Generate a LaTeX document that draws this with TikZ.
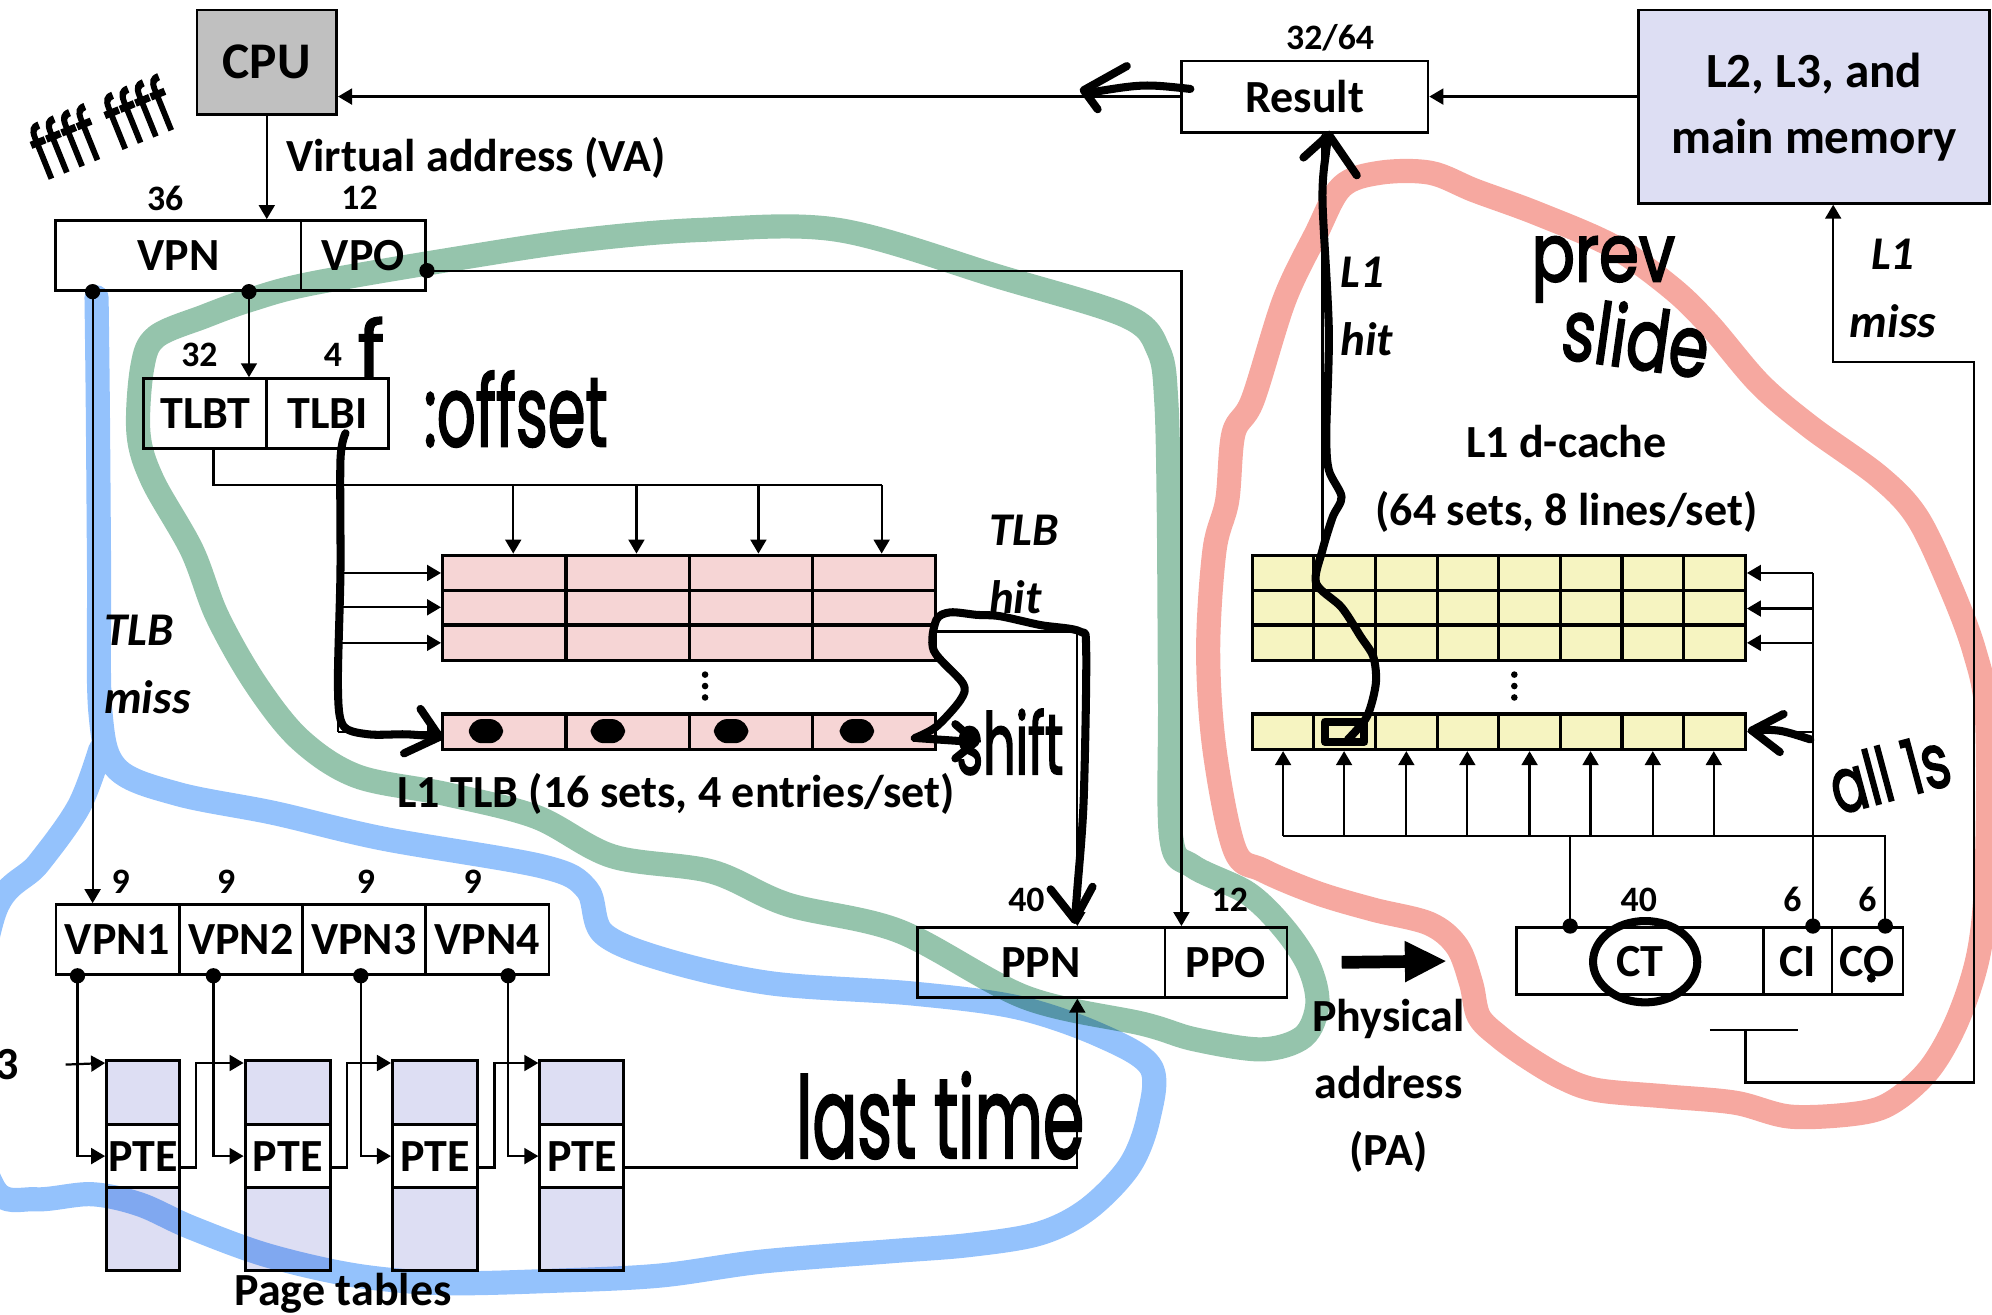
\documentclass[tikz,border=0pt]{standalone}
\usepackage{fontspec}
\setmainfont{Carlito}
\newfontfamily\handfont{Poppins}[FakeBold=2.5]
\usetikzlibrary{positioning,arrows.meta}

\definecolor{cpugray}{RGB}{192,192,192}
\definecolor{memblue}{RGB}{221,222,243}
\definecolor{tlbpink}{RGB}{246,213,213}
\definecolor{cacheyel}{RGB}{246,244,193}
\definecolor{penred}{RGB}{246,168,160}
\definecolor{pengreen}{RGB}{149,196,172}
\definecolor{penblue}{RGB}{148,194,252}

\begin{document}
\begin{tikzpicture}[x=0.01cm, y=-0.01cm,
    font=\fontsize{10.3}{13}\selectfont\bfseries,
    box/.style={draw, line width=0.6pt, inner sep=0pt, minimum height=0.55cm},
    cell/.style={draw, line width=0.7pt, inner sep=0pt, minimum width=3.88cm},
    num/.style={font=\fontsize{8}{9}\selectfont\bfseries, inner sep=0pt},
    note/.style={font=\fontsize{10.5}{15.2}\selectfont\bfseries\itshape, align=left, inner sep=0pt},
    ln/.style={line width=0.5pt},
    arr/.style={ln, -{Triangle[length=1.1mm,width=1.25mm]}},
    pen/.style={line width=1.8pt, line cap=round, line join=round},
    ink/.style={font=\handfont, inner sep=0pt},
    hl/.style={line width=0.19cm, line cap=round, line join=round}
  ]
  \useasboundingbox (0,0) rectangle (1568,1035);

  % CPU, result and memory along the top.
  \node[box, fill=cpugray, minimum width=1.10cm, minimum height=0.82cm,
        font=\fontsize{11.5}{13}\selectfont\bfseries] (cpu) at (210,49) {CPU};
  \node[box, minimum width=1.94cm, minimum height=0.56cm] (result) at (1027,76) {Result};
  \node[box, fill=memblue, minimum width=2.76cm, minimum height=1.52cm, align=center,
        font=\fontsize{11}{14.8}\selectfont\bfseries] (mem) at (1428,84) {L2, L3, and\\main memory};
  \node[num] (w64) at (1047,30) {32/64};

  % Virtual address.
  \node[anchor=west] (vacap) at (213,124) {Virtual address (VA)};
  \node[box, minimum width=1.93cm] (vpn) at (140.5,201) {VPN};
  \node[box, minimum width=0.98cm] (vpo) at (286,201) {VPO};
  \node[num] (w36) at (130,156) {36};
  \node[num] (w12) at (283,156) {12};

  % TLB tag / index.
  \node[box, minimum width=0.97cm] (tlbt) at (161.5,325.5) {TLBT};
  \node[box, minimum width=0.96cm] (tlbi) at (258,325.5) {TLBI};
  \node[num] (w32) at (157,279) {32};
  \node[num] (w4) at (262,279) {4};

  % L1 TLB array.
  \node[cell, fill=tlbpink, minimum height=0.83cm] (tlb) at (542.5,478.5) {};
  \node[cell, fill=tlbpink, minimum height=0.28cm] (tlbrow) at (542.5,576) {};
  \foreach \x in {445.5,542.5,639.5} {
    \draw[line width=0.7pt] (\x,437) -- (\x,520);
    \draw[line width=0.7pt] (\x,562) -- (\x,590);
  }
  \foreach \y in {464.5,492} \draw[line width=0.7pt] (348.5,\y) -- (736.5,\y);
  \foreach \y in {531,540,549} \fill (555,\y) circle (0.026cm);
  \node (tlbcap) at (532,625) {L1 TLB (16 sets, 4 entries/set)};

  % L1 d-cache array.
  \node[align=center, font=\fontsize{10.3}{15.3}\selectfont\bfseries] (dcap) at (1233,377)
    {L1 d-cache\\(64 sets, 8 lines/set)};
  \node[cell, fill=cacheyel, minimum height=0.83cm] (cache) at (1179.75,478.5) {};
  \node[cell, fill=cacheyel, minimum height=0.28cm] (cacherow) at (1179.75,576) {};
  \foreach \k in {1,...,7} {
    \draw[line width=0.7pt] ({985.75+48.5*\k},437) -- ({985.75+48.5*\k},520);
    \draw[line width=0.7pt] ({985.75+48.5*\k},562) -- ({985.75+48.5*\k},590);
  }
  \foreach \y in {464.5,492} \draw[line width=0.7pt] (985.75,\y) -- (1373.75,\y);
  \foreach \y in {531,540,549} \fill (1192,\y) circle (0.026cm);

  % VPN1..VPN4 and the page tables.
  \foreach \i/\x in {1/92.5,2/189.5,3/286.5,4/383.5}
    \node[box, minimum width=0.97cm] (vpn\i) at (\x,739.5) {VPN\i};
  \foreach \i/\x in {1/95,2/178,3/288,4/372}
    \node[num] (w9\i) at (\x,694) {9};
  \foreach \i/\x/\w in {1/112.5/0.57,2/226.5/0.67,3/342.5/0.67,4/458/0.66} {
    \node[draw, line width=0.7pt, fill=memblue, inner sep=0pt, minimum width=\w cm,
          minimum height=1.65cm] (pt\i) at (\x,917.5) {};
    \node[draw, line width=0.7pt, fill=white, inner sep=0pt, minimum width=\w cm,
          minimum height=0.5cm] (pte\i) at (\x,910) {PTE};
  }
  \node (ptcap) at (270,1018) {Page tables};
  \node (cr3) at (6,838) {3};

  % Physical address.
  \node[box, minimum width=1.95cm] (ppn) at (819.5,757.5) {PPN};
  \node[box, minimum width=0.96cm] (ppo) at (965,757.5) {PPO};
  \node[num] (w40) at (808,708) {40};
  \node[num] (w12b) at (968,708) {12};
  \node[align=center, font=\fontsize{10.3}{15}\selectfont\bfseries] (pacap) at (1093,855)
    {Physical\\address\\(PA)};
  \node[box, minimum width=1.94cm, minimum height=0.53cm] (ct) at (1291,756.5) {CT};
  \node[box, minimum width=0.54cm, minimum height=0.53cm] (ci) at (1415,756.5) {CI};
  \node[box, minimum width=0.56cm, minimum height=0.53cm] (co) at (1470,756.5) {CO};
  \node[num] (w40b) at (1290,708) {40};
  \node[num] (w6a) at (1411,708) {6};
  \node[num] (w6b) at (1470,708) {6};

  % Italic path labels.
  \node[note] (tlbhit) at (806,444) {TLB\\hit};
  \node[note] (tlbmiss) at (116,523) {TLB\\miss};
  \node[note] (l1hit) at (1076,241) {L1\\hit};
  \node[note, align=center] (l1miss) at (1490,227) {L1\\miss};

  % Connectors.
  \draw[arr] (result.west) -- (result.west -| cpu.east);
  \draw[arr] (mem.west |- result.east) -- (result.east);
  \draw[arr] (cpu.south) -- (cpu.south |- vpn.north);

  \coordinate (vd1) at ([xshift=0.30cm]vpn.south west);
  \coordinate (vd2) at ([xshift=1.53cm]vpn.south west);
  \coordinate (vd3) at ([yshift=-0.12cm]vpo.east);
  \foreach \c in {vd1,vd2,vd3} \fill (\c) circle (0.06cm);
  \draw[arr] (vd1) -- (vd1 |- vpn1.north);
  \draw[arr] (vd2) -- (vd2 |- tlbt.north);
  \draw[arr] (vd3) -| ([xshift=-0.35cm]ppo.north);

  % TLBT feeds the tag compares, TLBI picks the set.
  \coordinate (tb) at ([xshift=0.065cm]tlbt.south);
  \draw[ln] (tb) |- (694,382);
  \foreach \x in {404,501,597,694} \draw[arr] (\x,382) -- (\x,0 |- tlb.north);
  \coordinate (ti) at ([xshift=0.08cm]tlbi.south);
  \draw[ln] (ti) -- (ti |- tlbrow.west);
  \foreach \y in {451,478,506} \draw[arr] (ti |- 0,\y) -- (tlb.west |- 0,\y);
  \draw[arr] (ti |- tlbrow.west) -- (tlbrow.west);
  \draw[arr] ([yshift=-0.185cm]tlb.east) -| ([xshift=0.285cm]ppn.north);

  % Page walk.
  \foreach \i/\x in {1/61,2/168,3/284,4/400} {
    \coordinate (pd\i) at (\x,0 |- vpn1.south);
    \fill (pd\i) circle (0.06cm);
    \draw[arr] (pd\i) |- (pte\i.west);
  }
  \foreach \i/\j in {1/2,2/3,3/4}
    \draw[arr] ([yshift=-0.09cm]pte\i.east) -- ++(12,0) |- ([yshift=-0.03cm]pt\j.north west);
  \draw[arr] ([xshift=0.24cm]cr3.east) -- ([yshift=-0.03cm]pt1.north west);
  \draw[arr] ([yshift=-0.09cm]pte4.east) -| ([xshift=0.285cm]ppn.south);

  \draw[line width=0.1cm, -{Triangle[length=0.33cm,width=0.3cm]}]
    ([xshift=0.42cm]ppo.east) -- ([xshift=-0.54cm]ct.west);

  % Cache lookup.
  \coordinate (cd1) at ([xshift=-0.55cm]ct.north);
  \coordinate (cd2) at ([xshift=0.12cm]ci.north);
  \coordinate (cd3) at ([xshift=0.14cm]co.north);
  \foreach \c in {cd1,cd2,cd3} \fill (\c) circle (0.06cm);
  \draw[ln] (cd1) -- (cd1 |- 0,658);
  \draw[ln] (1010,658) -- (cd3 |- 0,658) -- (cd3);
  \foreach \x in {1010,1058,1107,1155,1204,1252,1301,1349}
    \draw[arr] (\x,658) -- (\x,0 |- cacherow.south);
  \draw[ln] (cd2) -- (cd2 |- 0,451);
  \foreach \y in {451,479,506} \draw[arr] (cd2 |- 0,\y) -- (cache.east |- 0,\y);
  \draw[arr] (cd2 |- cacherow.east) -- (cacherow.east);
  \draw[arr] (1041,0 |- cache.north) -- (1041,0 |- result.south);
  \draw[ln] (1346,811) -- (1415,811);
  \draw[arr] (1374,811) |- (1554,852) |- (1443,285) -- (1443,0 |- mem.south);

  % Highlighter loops.
  \begin{scope}[blend mode=multiply]
  \draw[hl, pengreen] plot[smooth cycle, tension=0.55] coordinates {
    (109,341) (112,289) (123,265) (161,249) (197,236) (246,223) (369,202) (457,189)
    (551,181) (660,181) (787,218) (887,249) (912,276) (918,315) (920,400) (921,550)
    (922,660) (939,682) (982,703) (1010,730) (1030,760) (1037,790) (1026,816) (993,826)
    (940,818) (900,806) (807,785) (708,733) (620,712) (560,686) (482,674) (422,643)
    (351,625) (281,611) (236,582) (201,538) (171,485) (151,433) (120,378)};
  \draw[hl, penblue] plot[smooth, tension=0.55] coordinates {
    (76,234) (77,320) (78,450) (79,560) (92,605) (140,625) (216,640) (301,660)
    (427,682) (462,700) (475,735) (525,756) (607,774) (718,782) (801,793) (866,815)
    (906,840) (904,880) (889,918) (856,952) (818,971) (763,980) (700,985) (600,993)
    (520,1004) (440,1008) (350,1010) (280,1004) (210,988) (150,966) (110,948) (72,940)
    (28,944) (-5,935) (-25,850) (-5,720) (30,680) (62,635) (79,590)};
  \draw[hl, penred] plot[smooth cycle, tension=0.55] coordinates {
    (966,394) (956,433) (951,512) (956,590) (972,669) (994,685) (1037,703) (1081,716)
    (1125,727) (1147,745) (1158,774) (1164,800) (1180,816) (1202,832) (1229,848)
    (1257,858) (1311,863) (1366,868) (1410,879) (1465,876) (1492,866) (1520,840)
    (1542,800) (1558,748) (1564,680) (1564,564) (1554,512) (1534,459) (1509,407)
    (1479,375) (1425,336) (1385,302) (1345,255) (1315,226) (1270,194) (1210,168)
    (1161,150) (1126,136) (1086,136) (1056,147) (1036,184) (1011,236) (986,315)
    (971,341)};
  \end{scope}

  % Pen strokes.
  \draw[pen] (937,70) .. controls (900,66) .. (857,73);
  \draw[pen] (887,52) -- (853,71) -- (864,86);
  \draw[pen] plot[smooth] coordinates {(1061,582) (1076,564) (1083,538) (1081,517)
    (1071,501) (1056,478) (1036,459) (1041,433) (1049,407) (1056,391) (1046,370)
    (1044,341) (1046,260) (1041,157) (1044,118) (1046,107)};
  \draw[pen] (1026,124) -- (1046,106) -- (1068,138);
  \draw[pen] (1043,568) rectangle (1074,584);
  \draw[pen] plot[smooth] coordinates {(272,341) (268,362) (268,450) (266,540)
    (270,571) (290,578) (320,578) (346,580)};
  \draw[pen] (331,558) -- (346,580) -- (318,593);
  \foreach \x in {383,479,576,675}
    \fill[rounded corners=3pt] ({\x-14},566) rectangle ({\x+13},585);
  \draw[pen] plot[smooth] coordinates {(720,581) (737,572) (756,551) (758,538)
    (735,512) (737,488) (748,482) (769,484) (787,485) (819,492) (850,497) (855,512)
    (853,630) (848,700) (846,724)};
  \draw[pen] (827,700) -- (846,724) -- (860,698);
  \draw[pen] (722,581) -- (766,584);
  \draw[pen] (752,570) -- (768,584) -- (752,597);
  \draw[pen] (1425,582) .. controls (1400,574) .. (1379,575);
  \draw[pen] (1404,562) -- (1379,575) -- (1401,592);
  \draw[pen] (1295,757) ellipse [x radius=0.41cm, y radius=0.32cm];
  \fill (1473,770) circle (0.035cm);

  % Handwritten notes.
  \node[ink, rotate=22, font=\handfont\fontsize{15}{15}\selectfont] (hfff) at (80,100)
    {\scalebox{0.75}[1.1]{ffff ffff}};
  \node[ink, font=\handfont\fontsize{18}{18}\selectfont] (hf) at (292,274) {f};
  \node[ink, font=\handfont\fontsize{22}{22}\selectfont] (hoff) at (406,322)
    {\scalebox{0.62}[1]{:offset}};
  \node[ink, font=\handfont\fontsize{19}{19}\selectfont] (hshift) at (795,584)
    {\scalebox{0.6}[1]{shift}};
  \node[ink, font=\handfont\fontsize{24}{24}\selectfont] (hlast) at (740,878)
    {\scalebox{0.62}[1.05]{last time}};
  \node[ink, font=\handfont\fontsize{18}{18}\selectfont] (hprev) at (1262,212)
    {\scalebox{0.8}[1]{prev}};
  \node[ink, rotate=-8, font=\handfont\fontsize{19}{19}\selectfont] (hslide) at (1288,265)
    {\scalebox{0.75}[1]{slide}};
  \node[ink, rotate=15, font=\handfont\fontsize{17}{17}\selectfont] (hall) at (1487,608)
    {\scalebox{0.7}[1]{all 1s}};
\end{tikzpicture}
\end{document}
